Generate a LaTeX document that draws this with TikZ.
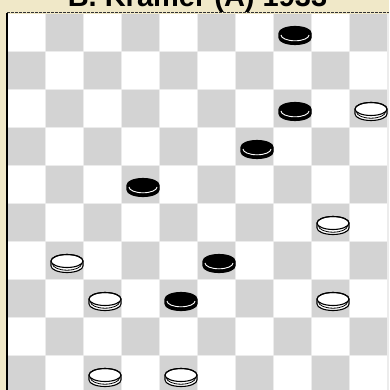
\documentclass[tikz,border=0pt]{standalone}
\usepackage{fontspec}
\setmainfont{Liberation Sans}
\definecolor{bgbeige}{RGB}{240,232,200}
\definecolor{sqgrey}{RGB}{211,211,211}
\definecolor{gapgrey}{RGB}{236,236,236}
\tikzset{
  whiteman/.pic={
    \path[fill=white,draw=black,line width=1.1pt]
      (-16,-2.5) arc[start angle=180,end angle=360,x radius=16,y radius=6.5]
      -- (16,2.5) arc[start angle=0,end angle=180,x radius=16,y radius=6.5] -- cycle;
    \draw[line width=1.1pt] (0,-2.5) ellipse [x radius=16,y radius=6.5];
    \draw[line width=0.8pt] (-14.5,0.3) arc[start angle=180,end angle=0,x radius=14.5,y radius=6.4];
  },
  blackman/.pic={
    \path[fill=black,draw=black,line width=1.1pt]
      (-16,-2.5) arc[start angle=180,end angle=360,x radius=16,y radius=6.5]
      -- (16,2.5) arc[start angle=0,end angle=180,x radius=16,y radius=6.5] -- cycle;
    \draw[white,line width=0.9pt] (-14,-0.5) arc[start angle=180,end angle=0,x radius=14,y radius=5.8];
  },
}
\begin{document}
\begin{tikzpicture}[x=1pt,y=-1pt]
\useasboundingbox (0,0) rectangle (389,390);
\fill[bgbeige] (0,0) rectangle (389,390);
\fill[gapgrey] (8,14) rectangle (389,390);
\foreach \r in {0,...,9}{
  \foreach \c in {0,...,9}{
    \pgfmathtruncatemacro{\sqpar}{mod(\r+\c,2)}
    \ifnum\sqpar=0
      \fill[white] (8+38*\c,14+38*\r) rectangle ++(37,37);
    \else
      \fill[sqgrey] (8+38*\c,14+38*\r) rectangle ++(37,37);
    \fi
  }
}
\draw[black,line width=1.2pt] (7,13) -- (7,390);
\draw[black!80,line width=1pt,dash pattern=on 3pt off 1pt] (7,13) -- (389,13);
\node[anchor=base,inner sep=0pt,font=\bfseries\fontsize{29}{29}\selectfont] (title) at (197.5,7) {B. Kramer (A) 1933};
% black men
\foreach \r/\c [count=\i] in {0/7,2/7,3/6,4/3,6/5,7/4}{
  \pic (b\i) at (8+38*\c+21,14+38*\r+21.5) {blackman};
}
% white men
\foreach \r/\c [count=\i] in {2/9,5/8,6/1,7/2,7/8,9/2,9/4}{
  \pic (w\i) at (8+38*\c+21,14+38*\r+21.5) {whiteman};
}
\end{tikzpicture}
\end{document}
